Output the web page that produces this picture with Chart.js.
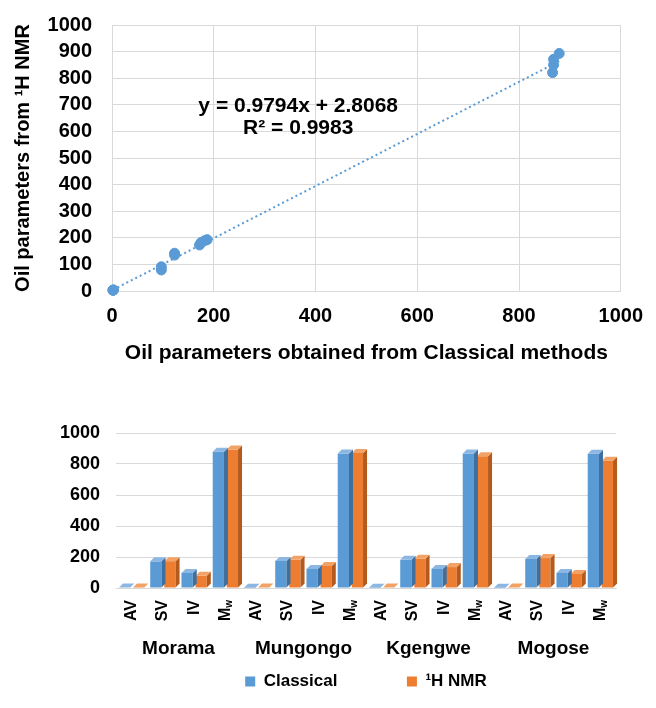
<!DOCTYPE html>
<html>
<head>
<meta charset="utf-8">
<script src="https://cdn.jsdelivr.net/npm/chart.js@4.4.0/dist/chart.umd.min.js"></script>
<style>
  html, body { margin: 0; padding: 0; background: #fff; overflow: hidden; }
  #wrap { position: relative; width: 656px; height: 708px; overflow: hidden; }
  #topBox { position: absolute; left: 0; top: -7px; }
  #bottomBox { position: absolute; left: 0; top: 400px; }
</style>
</head>
<body>
<div id="wrap">
  <div id="topBox"><canvas id="scatter" width="656" height="379"></canvas></div>
  <div id="bottomBox"><canvas id="bars" width="656" height="308"></canvas></div>
</div>
<script>
// Datos
const oils = ['Morama', 'Mungongo', 'Kgengwe', 'Mogose'];
const params = ['AV', 'SV', 'IV', 'Mw'];
// un valor por barra: para cada aceite AV, SV, IV, Mw
const classical = [3, 172, 97, 879,   2, 175, 123, 868,   2, 182, 123, 868,   2, 187, 97, 866];
const nmr       = [4, 173, 79, 893,   3, 182, 142, 871,   3, 189, 135, 850,   3, 193, 91, 821];
// línea de tendencia
const trendSlope = 0.9794;
const trendIntercept = 2.8068;
const rSquared = 0.9983;

const azul = '#5B9BD5';
const naranja = '#ED7D31';
const gris = '#D9D9D9';
const fuente = "'Liberation Sans', Arial, sans-serif";

Chart.defaults.font.family = fuente;
Chart.defaults.font.weight = 'bold';
Chart.defaults.color = '#000';
Chart.defaults.animation = false;

const sinComas = v => String(v);

// ---------- Gráfica de dispersión ----------
const puntos = classical.map((v, i) => ({ x: v, y: nmr[i] }));
const xMin = Math.min(...classical);
const xMax = Math.max(...classical);
const tendencia = [xMin, xMax].map(x => ({ x: x, y: trendSlope * x + trendIntercept }));

const etiquetaEcuacion = {
  id: 'etiquetaEcuacion',
  afterDatasetsDraw(chart) {
    const { ctx, scales } = chart;
    const x = scales.x.getPixelForValue(366);
    const y = scales.y.getPixelForValue(695);
    ctx.save();
    ctx.font = 'bold 21px ' + fuente;
    ctx.fillStyle = '#000';
    ctx.textAlign = 'center';
    ctx.textBaseline = 'middle';
    ctx.fillText('y = ' + trendSlope + 'x + ' + trendIntercept, x, y);
    ctx.fillText('R² = ' + rSquared, x, y + 22);
    ctx.restore();
  }
};

new Chart(document.getElementById('scatter'), {
  type: 'scatter',
  data: {
    datasets: [
      {
        label: 'Tendencia',
        type: 'line',
        data: tendencia,
        borderColor: azul,
        borderWidth: 2,
        borderDash: [2, 3],
        pointRadius: 0,
        fill: false
      },
      {
        label: 'Datos',
        data: puntos,
        backgroundColor: azul,
        borderColor: azul,
        pointRadius: 5,
        clip: false
      }
    ]
  },
  options: {
    responsive: false,
    layout: { padding: { top: 0, right: 24, left: 0, bottom: 0 } },
    plugins: { legend: { display: false }, tooltip: { enabled: false } },
    scales: {
      x: {
        type: 'linear',
        min: 0, max: 1000,
        ticks: { stepSize: 200, padding: 13, callback: sinComas, font: { size: 20, weight: 'bold' } },
        grid: { color: gris, drawTicks: false },
        border: { color: gris },
        title: {
          display: true,
          text: 'Oil parameters obtained from Classical methods',
          font: { size: 21, weight: 'bold' },
          padding: { top: 0, bottom: 6 }
        },
        afterFit(s) { s.height = 81; }
      },
      y: {
        min: 0, max: 1000,
        ticks: { stepSize: 100, autoSkip: false, padding: 20, callback: sinComas, font: { size: 20, weight: 'bold' } },
        grid: { color: gris, drawTicks: false },
        border: { color: gris },
        title: {
          display: true,
          text: 'Oil parameters from ¹H NMR',
          font: { size: 20, weight: 'bold' },
          padding: { top: 11, bottom: 0 }
        },
        afterFit(s) { s.width = 112; }
      }
    }
  },
  plugins: [etiquetaEcuacion]
});

// ---------- Gráfica de barras ----------
const etiquetasBarras = oils.flatMap(() => params);
const colorLado = ['#3E6F9E', '#B35A1C'];
const colorTapa = ['#8DB7E3', '#F3A266'];

const profundidad = {
  id: 'profundidad',
  afterDatasetsDraw(chart) {
    const ctx = chart.ctx;
    const d = 4;
    [1, 0].forEach(di => {
      chart.getDatasetMeta(di).data.forEach(bar => {
        const { x, y, base, width } = bar.getProps(['x', 'y', 'base', 'width'], true);
        const l = x - width / 2, r = x + width / 2;
        ctx.fillStyle = colorLado[di];
        ctx.beginPath();
        ctx.moveTo(r, y); ctx.lineTo(r + d, y - d); ctx.lineTo(r + d, base - d); ctx.lineTo(r, base);
        ctx.closePath(); ctx.fill();
        ctx.fillStyle = colorTapa[di];
        ctx.beginPath();
        ctx.moveTo(l, y); ctx.lineTo(l + d, y - d); ctx.lineTo(r + d, y - d); ctx.lineTo(r, y);
        ctx.closePath(); ctx.fill();
      });
    });
  }
};

// etiquetas de parámetros giradas, con el subíndice de Mw
const etiquetasParam = {
  id: 'etiquetasParam',
  afterDraw(chart) {
    const { ctx, scales, chartArea } = chart;
    ctx.save();
    ctx.fillStyle = '#000';
    ctx.textBaseline = 'middle';
    ctx.textAlign = 'left';
    chart.data.labels.forEach((lab, i) => {
      const x = scales.x.getPixelForValue(i);
      const principal = lab === 'Mw' ? 'M' : lab;
      const sub = lab === 'Mw' ? 'w' : '';
      ctx.font = 'bold 16px ' + fuente;
      const w1 = ctx.measureText(principal).width;
      ctx.font = 'bold 10px ' + fuente;
      const w2 = sub ? ctx.measureText(sub).width : 0;
      const inicio = -(w1 + w2);
      ctx.save();
      ctx.translate(x, chartArea.bottom + 12);
      ctx.rotate(-Math.PI / 2);
      ctx.font = 'bold 16px ' + fuente;
      ctx.fillText(principal, inicio, 0);
      if (sub) {
        ctx.font = 'bold 10px ' + fuente;
        ctx.fillText(sub, inicio + w1, 4);
      }
      ctx.restore();
    });
    ctx.restore();
  }
};

new Chart(document.getElementById('bars'), {
  type: 'bar',
  data: {
    labels: etiquetasBarras,
    datasets: [
      { label: 'Classical', data: classical, backgroundColor: azul, borderWidth: 0 },
      { label: '¹H NMR', data: nmr, backgroundColor: naranja, borderWidth: 0 }
    ]
  },
  options: {
    responsive: false,
    layout: { padding: { top: 33, right: 40, left: 0, bottom: 8 } },
    datasets: { bar: { categoryPercentage: 0.9, barPercentage: 0.8 } },
    plugins: {
      tooltip: { enabled: false },
      legend: {
        position: 'bottom',
        fullSize: false,
        labels: {
          boxWidth: 10,
          boxHeight: 10,
          padding: 10,
          font: { size: 17, weight: 'bold' },
          generateLabels(chart) {
            const items = Chart.defaults.plugins.legend.labels.generateLabels(chart);
            items[0].text += '\u2003\u2003\u2003\u2002';
            return items;
          }
        }
      }
    },
    scales: {
      x: {
        ticks: { display: false },
        grid: { display: false, drawTicks: false },
        border: { color: gris },
        afterFit(s) { s.height = 45; }
      },
      x2: {
        type: 'category',
        labels: oils,
        position: 'bottom',
        offset: true,
        grid: { display: false, drawTicks: false },
        border: { display: false },
        ticks: { padding: 4, font: { size: 19, weight: 'bold' } },
        afterFit(s) { s.height = 30; }
      },
      y: {
        min: 0, max: 1000,
        ticks: { stepSize: 200, padding: 16, callback: sinComas, font: { size: 18, weight: 'bold' } },
        grid: { color: gris, drawTicks: false },
        border: { display: false },
        afterFit(s) { s.width = 116; }
      }
    }
  },
  plugins: [profundidad, etiquetasParam]
});
</script>
</body>
</html>
